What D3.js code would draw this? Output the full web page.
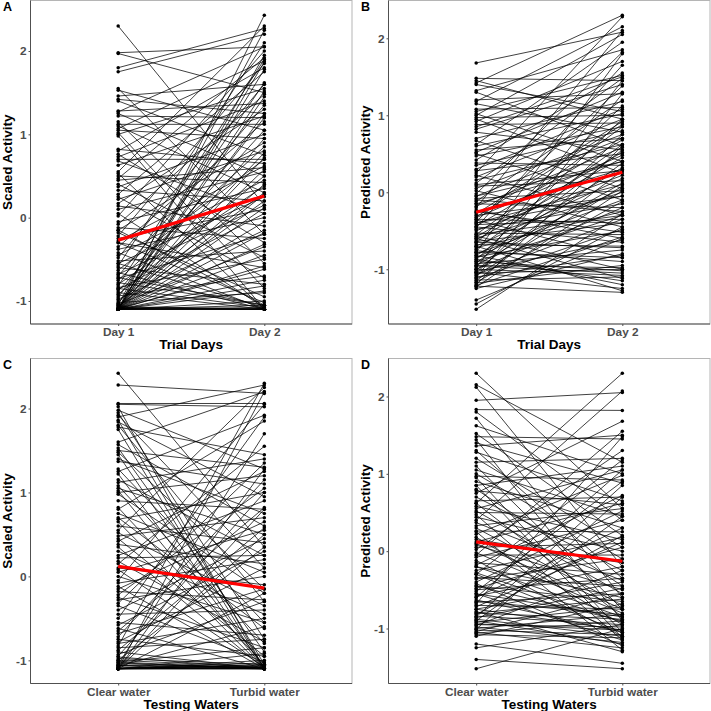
<!DOCTYPE html>
<html>
<head>
<meta charset="utf-8">
<title>Activity by day and water</title>
<script src="https://d3js.org/d3.v7.min.js"></script>
<style>
  body { margin: 0; background: #fff; }
  svg text { font-family: "Liberation Sans", Arial, sans-serif; font-weight: bold; }
</style>
</head>
<body>
<svg id="chart" width="711" height="711"></svg>
<script>
// ---- data ----
var dayLabels = ["Day 1", "Day 2"];
var waterLabels = ["Clear water", "Turbid water"];
var yTicks = [-1, 0, 1, 2];

// fitted (red) line ends
var fitScaledDays = [-0.27, 0.26];
var fitPredDays = [-0.26, 0.26];
var fitScaledWaters = [0.12, -0.14];
var fitPredWaters = [0.12, -0.13];

// A: scaled activity, [Day 1, Day 2] per fish
var scaledByDay = [
  [2.30, 0.15], [1.98, 2.05], [1.97, 1.50], [1.80, 2.27], [1.75, 2.20], [1.55, -0.20], [1.53, 1.05],
  [1.46, 1.60], [1.42, 1.25], [1.40, 0.75], [1.28, 1.37], [1.27, 2.05], [1.25, 0.50], [1.22, 1.20],
  [1.15, -0.55], [1.12, 1.12], [1.10, 0.30], [1.07, 1.88], [1.05, 0.95], [1.02, -0.85], [1.00, 1.55],
  [0.82, 0.65], [0.80, 1.80], [0.76, -0.30], [0.73, 1.40], [0.70, 0.70], [0.68, 0.05], [0.63, 1.22],
  [0.55, 2.30], [0.53, -1.10], [0.50, 0.42], [0.47, 1.92], [0.45, 0.60], [0.40, -0.48], [0.37, 1.00],
  [0.33, 0.20], [0.28, 1.75], [0.25, -0.72], [0.22, 0.80], [0.17, 1.30], [0.14, -0.10], [0.10, 0.55],
  [0.05, -1.08], [0.02, 2.00], [-0.05, 0.35], [-0.08, 1.48], [-0.12, -0.25], [-0.15, 0.90], [-0.18, -0.95],
  [-0.22, 1.85], [-0.25, 0.10], [-0.28, 0.62], [-0.30, -0.60], [-0.35, 1.15], [-0.38, 0.00], [-0.42, -1.10],
  [-0.45, 0.45], [-0.48, 1.60], [-0.52, -0.40], [-0.55, 0.25], [-0.58, 2.10], [-0.60, -0.80], [-0.63, 0.70],
  [-0.66, -1.10], [-0.68, 0.15], [-0.70, 1.35], [-0.73, -0.20], [-0.75, 0.85], [-0.78, -1.05], [-0.80, 0.38],
  [-0.82, 1.90], [-0.84, -0.50], [-0.86, 0.05], [-0.88, 1.05], [-0.90, -1.10], [-0.92, 0.50], [-0.94, -0.70],
  [-0.96, 1.62], [-0.98, -0.15], [-1.00, 0.30], [-1.02, -0.90], [-1.03, 1.20], [-1.04, -0.35], [-1.05, 2.25],
  [-1.06, 0.20], [-1.07, -1.10], [-1.08, 0.78], [-1.09, -0.62], [-1.10, 2.43], [-1.10, 1.95], [-1.10, 1.87],
  [-1.10, 1.78], [-1.10, 1.52], [-1.10, 1.45], [-1.10, 1.25], [-1.10, 0.95], [-1.10, 0.72], [-1.10, 0.58],
  [-1.10, 0.40], [-1.10, 0.28], [-1.10, 0.12], [-1.10, -0.05], [-1.10, -0.18], [-1.10, -0.32], [-1.10, -0.45],
  [-1.10, -0.58], [-1.10, -0.75], [-1.10, -0.82], [-1.10, -0.88], [-1.10, -1.00], [-1.10, -1.05], [-1.10, -1.08],
  [-1.10, -1.10], [-1.10, -1.10], [-1.10, -1.10], [-1.09, -1.10], [-1.08, -1.09], [-0.55, -1.08], [-0.72, -1.05],
  [-0.30, -1.02], [0.98, -1.10], [-0.15, -1.05], [-0.85, -1.08]
];

// B: predicted activity, [Day 1, Day 2]
var predByDay = [
  [1.68, 2.08], [1.48, 1.45], [1.45, 0.95], [1.42, 2.30], [1.40, 1.05], [1.32, 1.85], [1.30, 0.60],
  [1.20, 1.28], [1.18, 2.15], [1.15, 0.78], [1.08, 1.10], [1.05, 1.52], [1.02, 0.40], [1.00, 2.05],
  [0.97, 1.00], [0.95, 0.25], [0.92, 1.70], [0.88, 0.90], [0.82, 1.40], [0.78, 0.55], [0.70, 1.18],
  [0.67, 0.05], [0.62, 1.95], [0.55, 0.70], [0.52, 1.30], [0.50, -0.10], [0.47, 0.85], [0.42, 1.55],
  [0.38, 0.35], [0.30, 1.08], [0.28, 0.50], [0.25, 2.28], [0.22, -0.30], [0.20, 0.95], [0.16, 0.62],
  [0.12, 1.48], [0.08, 0.15], [0.05, 0.75], [0.02, -0.45], [-0.02, 1.82], [-0.05, 0.40], [-0.08, 0.02],
  [-0.12, 1.20], [-0.15, -0.20], [-0.18, 0.58], [-0.20, 2.10], [-0.23, -0.60], [-0.26, 0.30], [-0.28, 0.92],
  [-0.30, -0.05], [-0.33, 0.48], [-0.36, -0.85], [-0.38, 1.38], [-0.40, 0.10], [-0.42, -0.35], [-0.44, 0.68],
  [-0.46, 1.65], [-0.48, -0.15], [-0.50, 0.22], [-0.53, -0.55], [-0.55, 0.85], [-0.57, -1.00], [-0.60, 0.00],
  [-0.62, 0.45], [-0.64, -0.40], [-0.66, 1.12], [-0.68, -0.70], [-0.70, 0.18], [-0.72, -0.25], [-0.74, 0.62],
  [-0.76, -0.90], [-0.78, 1.80], [-0.80, -0.10], [-0.82, 0.32], [-0.84, -0.50], [-0.85, 0.05], [-0.87, -1.15],
  [-0.88, 0.95], [-0.90, -0.30], [-0.92, 0.55], [-0.93, -0.75], [-0.95, 0.12], [-0.96, -1.05], [-0.98, 1.45],
  [-1.00, -0.20], [-1.01, 0.38], [-1.03, -0.62], [-1.04, -1.25], [-1.05, 0.75], [-1.07, -0.35], [-1.08, 0.08],
  [-1.10, -0.82], [-1.11, 1.28], [-1.12, -0.48], [-1.14, -1.10], [-1.15, 0.28], [-1.17, -0.12], [-1.18, -0.95],
  [-1.20, 0.60], [-1.21, -0.58], [-1.22, -1.30], [-1.23, 0.02], [-1.25, -0.80], [-1.40, -0.60], [-1.45, -0.45],
  [-1.52, -0.28], [-0.82, -1.20], [-0.70, -1.28], [-0.90, -1.02], [-1.00, -1.08], [-0.60, -1.12], [-0.95, -0.98],
  [-1.05, -1.00], [-0.78, -0.85], [-0.65, -0.72], [-0.45, -0.65], [-0.35, -0.40], [-0.25, -0.52], [-0.10, -0.25],
  [0.10, 0.28], [-0.55, -0.30], [-0.40, -0.05], [-0.15, 0.40], [-0.05, 0.70], [0.35, 0.80], [0.60, 1.02],
  [0.85, 1.50], [-0.58, 0.52], [-0.32, 0.88]
];

// C: scaled activity, [Clear water, Turbid water]
var scaledByWater = [
  [2.42, 0.35], [2.28, 2.18], [2.06, 2.06], [2.05, 2.02], [2.02, -1.10], [1.98, 1.28], [1.95, -0.75],
  [1.92, 0.10], [1.90, 2.28], [1.86, -1.05], [1.84, 0.95], [1.80, -0.30], [1.78, 1.45], [1.75, -1.10],
  [1.60, 2.20], [1.57, 0.60], [1.53, -0.90], [1.50, 1.30], [1.48, -0.15], [1.45, -1.10], [1.40, 0.75],
  [1.37, 1.10], [1.28, -0.55], [1.25, 1.92], [1.22, -1.08], [1.15, 0.25], [1.12, 1.40], [1.08, -0.80],
  [1.05, 0.50], [1.02, -1.10], [1.00, 1.20], [0.98, -0.20], [0.90, 0.80], [0.82, -1.05], [0.80, 1.85],
  [0.75, 0.05], [0.70, -0.62], [0.68, 1.00], [0.65, -1.10], [0.60, 0.40], [0.55, 2.25], [0.52, -0.35],
  [0.48, 0.70], [0.45, -0.95], [0.42, 1.25], [0.38, 0.15], [0.35, -1.10], [0.30, -0.45], [0.25, 0.90],
  [0.22, 0.25], [0.18, -0.78], [0.15, 1.55], [0.10, -0.10], [0.08, -1.08], [0.05, 0.55], [0.00, -0.55],
  [-0.05, 2.05], [-0.08, 0.20], [-0.12, -1.10], [-0.15, 0.65], [-0.18, -0.28], [-0.22, 1.05], [-0.25, -0.85],
  [-0.28, 0.00], [-0.32, 1.35], [-0.35, -1.02], [-0.40, 0.45], [-0.45, -0.40], [-0.50, 1.90], [-0.55, -0.70],
  [-0.58, 0.30], [-0.62, -1.10], [-0.65, 0.82], [-0.68, -0.15], [-0.72, 1.15], [-0.75, -0.95], [-0.78, 0.10],
  [-0.80, -0.50], [-0.83, 2.30], [-0.85, -0.75], [-0.88, 0.58], [-0.90, -1.10], [-0.93, -0.30], [-0.95, 1.00],
  [-0.98, -1.05], [-1.00, 0.35], [-1.02, -0.85], [-1.03, -1.10], [-1.05, 1.70], [-1.06, -1.08], [-1.07, -0.60],
  [-1.08, -1.10], [-1.09, 0.80], [-1.10, -1.10], [-1.10, -1.09], [-1.10, -1.08], [-1.10, -1.06], [-1.10, -1.05],
  [-1.10, -1.03], [-1.10, -1.10], [-1.10, -1.10], [-1.10, -1.00], [-1.10, -0.92], [-1.10, -0.20], [-1.10, 1.28],
  [-1.10, 2.20], [-1.10, 0.50], [-1.08, -1.10], [-1.06, -1.10], [-1.04, -1.09], [-1.02, -1.10], [-1.00, -1.08],
  [-0.96, -1.10]
];

// D: predicted activity, [Clear water, Turbid water]
var predByWater = [
  [2.30, 0.55], [2.15, 1.15], [2.12, -0.20], [1.95, 2.05], [1.83, 1.82], [1.80, 0.40], [1.72, -0.60],
  [1.62, 1.00], [1.52, 0.20], [1.48, 1.45], [1.44, -0.90], [1.40, 0.88], [1.36, 1.50], [1.30, -0.35],
  [1.28, 0.65], [1.20, 0.05], [1.15, 1.20], [1.10, -0.75], [1.05, 0.45], [0.62, 2.30], [1.00, -0.10],
  [0.97, 0.92], [0.95, -1.05], [0.90, 0.30], [0.85, 1.10], [0.80, -0.45], [0.78, 0.60], [0.75, 1.68],
  [0.70, -0.25], [0.65, 0.70], [0.62, -0.85], [0.58, 0.15], [0.55, 1.05], [0.52, -0.55], [0.50, 0.48],
  [0.47, -1.15], [0.44, 0.00], [0.40, 2.07], [0.37, -0.38], [0.33, 0.55], [0.30, -0.70], [0.26, 0.25],
  [0.22, 0.98], [0.18, -0.95], [0.15, -0.15], [0.12, 0.62], [0.08, -0.50], [0.05, 0.10], [0.02, 1.30],
  [-0.02, -0.80], [-0.05, -0.05], [-0.08, 0.40], [-0.12, -1.10], [-0.15, -0.30], [-0.18, 0.72], [-0.20, -0.60],
  [-0.25, 0.18], [-0.28, -0.92], [-0.30, 1.18], [-0.34, -0.45], [-0.36, -0.10], [-0.40, 0.52], [-0.42, -1.22],
  [-0.45, -0.65], [-0.48, 0.05], [-0.50, -0.35], [-0.52, 0.90], [-0.55, -0.85], [-0.58, -0.20], [-0.60, 0.30],
  [-0.63, -1.05], [-0.66, -0.55], [-0.68, 1.48], [-0.70, -0.75], [-0.72, 0.12], [-0.75, -0.40], [-0.78, -1.30],
  [-0.80, -0.62], [-0.82, 0.20], [-0.84, -0.95], [-0.86, -0.48], [-0.88, -1.10], [-0.90, 0.45], [-0.92, -0.72],
  [-0.94, -1.02], [-0.96, -0.25], [-0.98, -1.18], [-1.00, -0.82], [-1.01, 0.70], [-1.02, -1.08], [-1.04, -0.55],
  [-1.05, -1.25], [-1.06, -0.90], [-1.08, -1.12], [-1.10, -0.68], [-1.20, -1.45], [-1.25, -0.95], [-1.40, -1.52],
  [-1.52, -1.00], [-0.05, 1.55], [-0.60, 1.05], [-0.85, 0.85], [0.25, -1.28], [0.85, -1.12], [-0.30, -1.05],
  [-0.55, -1.15], [-0.75, -1.02], [-0.95, -0.98], [-0.45, -0.90], [-0.20, -0.85], [0.10, -0.75], [-0.65, -0.82],
  [-0.80, -0.88], [-0.90, -1.20]
];

// ---- layout ----
var panels = [
  { letter: "A", pairs: scaledByDay, fit: fitScaledDays, cats: dayLabels,
    yTitle: "Scaled Activity", xTitle: "Trial Days", x0: 30.5, x1: 352, y0: 0.5, y1: 324 },
  { letter: "B", pairs: predByDay, fit: fitPredDays, cats: dayLabels,
    yTitle: "Predicted Activity", xTitle: "Trial Days", x0: 388.5, x1: 710, y0: 0.5, y1: 324 },
  { letter: "C", pairs: scaledByWater, fit: fitScaledWaters, cats: waterLabels,
    yTitle: "Scaled Activity", xTitle: "Testing Waters", x0: 30.5, x1: 352, y0: 358.5, y1: 683.5 },
  { letter: "D", pairs: predByWater, fit: fitPredWaters, cats: waterLabels,
    yTitle: "Predicted Activity", xTitle: "Testing Waters", x0: 388.5, x1: 710, y0: 358.5, y1: 683.5 }
];

var svg = d3.select("#chart");

panels.forEach(function(p) {
    var g = svg.append("g");

    var x = d3.scalePoint().domain(p.cats).range([p.x0, p.x1]).padding(0.6);
    var ext = d3.extent(p.pairs.flat());
    var pad = (ext[1] - ext[0]) * 0.05;
    var y = d3.scaleLinear().domain([ext[0] - pad, ext[1] + pad]).range([p.y1, p.y0]);

    // panel border
    g.append("rect")
        .attr("x", p.x0).attr("y", p.y0)
        .attr("width", p.x1 - p.x0).attr("height", p.y1 - p.y0)
        .attr("fill", "none").attr("stroke", "#b5b5b5").attr("stroke-width", 1);

    // axes
    var ya = g.append("g")
        .attr("transform", "translate(" + p.x0 + ",0)")
        .call(d3.axisLeft(y).tickValues(yTicks).tickSize(2).tickPadding(2)
            .tickFormat(function(d) { return String(d); }));
    var xa = g.append("g")
        .attr("transform", "translate(0," + p.y1 + ")")
        .call(d3.axisBottom(x).tickSize(2).tickPadding(2));
    [ya, xa].forEach(function(a) {
        a.select(".domain").attr("stroke", "#505050");
        a.selectAll(".tick line").attr("stroke", "#505050");
        a.selectAll(".tick text").attr("fill", "#4d4d4d").style("font-size", "11.8px");
    });
    ya.select(".domain").attr("d", "M0," + p.y1 + "V" + p.y0);
    xa.select(".domain").attr("d", "M" + p.x0 + ",0H" + p.x1);

    // paired lines
    g.append("g").selectAll("line").data(p.pairs).join("line")
        .attr("x1", x(p.cats[0])).attr("x2", x(p.cats[1]))
        .attr("y1", function(d) { return y(d[0]); })
        .attr("y2", function(d) { return y(d[1]); })
        .attr("stroke", "#000").attr("stroke-width", 0.75);

    // points
    var pts = [];
    p.pairs.forEach(function(d) {
        pts.push({ c: p.cats[0], v: d[0] });
        pts.push({ c: p.cats[1], v: d[1] });
    });
    g.append("g").selectAll("circle").data(pts).join("circle")
        .attr("cx", function(d) { return x(d.c); })
        .attr("cy", function(d) { return y(d.v); })
        .attr("r", 1.75).attr("fill", "#000");

    // fitted line
    g.append("line")
        .attr("x1", x(p.cats[0])).attr("x2", x(p.cats[1]))
        .attr("y1", y(p.fit[0])).attr("y2", y(p.fit[1]))
        .attr("stroke", "#ff0000").attr("stroke-width", 3.2);

    // titles
    g.append("text")
        .attr("x", (p.x0 + p.x1) / 2).attr("y", p.y1 + 25)
        .attr("text-anchor", "middle").style("font-size", "13.5px").attr("fill", "#000")
        .text(p.xTitle);
    g.append("text")
        .attr("transform", "translate(" + (p.x0 - 18.5) + "," + ((p.y0 + p.y1) / 2) + ") rotate(-90)")
        .attr("text-anchor", "middle").style("font-size", "13.5px").attr("fill", "#000")
        .text(p.yTitle);
    g.append("text")
        .attr("x", p.x0 - 27.5).attr("y", p.y0 + 10.5)
        .style("font-size", "12.5px").attr("fill", "#000")
        .text(p.letter);
});
</script>
</body>
</html>
